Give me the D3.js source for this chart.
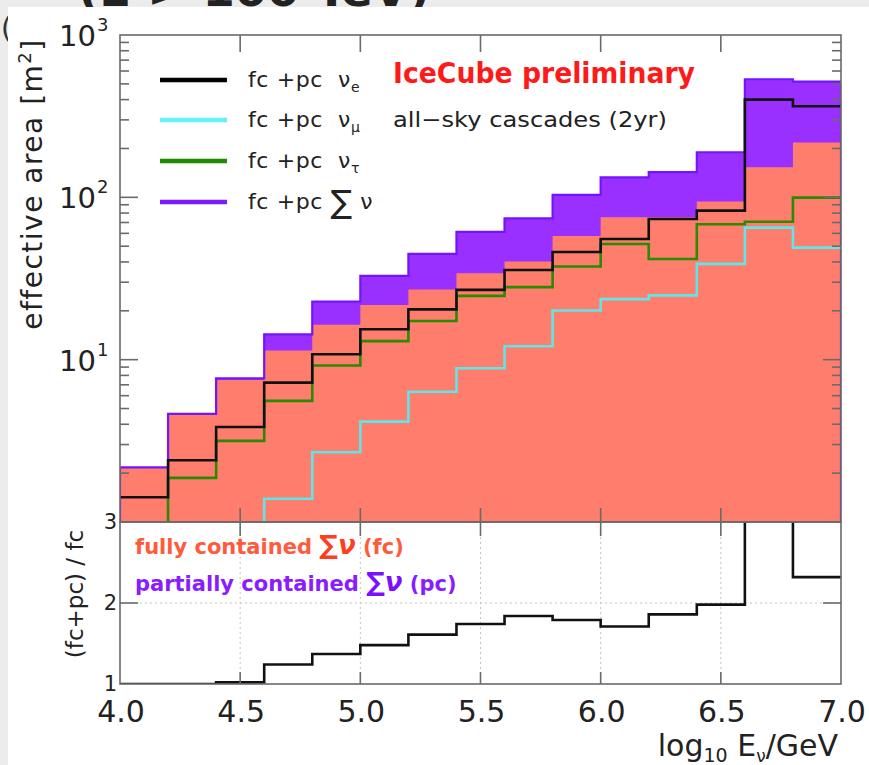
<!DOCTYPE html>
<html><head><meta charset="utf-8">
<script src="https://cdn.jsdelivr.net/npm/d3@7"></script>
<style>html,body{margin:0;padding:0;background:#fff;}svg{display:block;font-family:"DejaVu Sans",sans-serif;}</style>
</head><body>
<script>
// ---- data ----
const binLow = [4.0,4.2,4.4,4.6,4.8,5.0,5.2,5.4,5.6,5.8,6.0,6.2,6.4,6.6,6.8];
const binEnd = 7.0;
const sumTotal = [2.17,4.63,7.66,14.3,22.8,32.8,44.8,61.2,74.3,103.5,132.6,142.8,189.6,534,516];
const sumFC    = [2.15,4.60,7.50,11.4,16.4,21.7,27.1,34.1,40.2,57.8,75.4,75.4,94.1,153,218];
const nuE      = [1.42,2.40,3.85,7.22,10.8,15.4,20.4,26.9,35.7,46.1,55.4,73.6,82.8,400,364];
const nuMu     = [0.3,0.5,0.8,1.39,2.69,4.15,6.35,8.85,12.1,20.1,23.6,24.9,38.9,65.1,49.0];
const nuTau    = [0.5,1.87,3.16,5.57,9.21,13.0,17.3,24.7,28.0,37.5,51.6,41.7,68.3,70.8,99.6];
const ratio    = [1.0,1.0,1.02,1.24,1.37,1.48,1.61,1.74,1.84,1.79,1.71,1.86,1.98,3.5,2.32];
const xTicks = [4.0,4.5,5.0,5.5,6.0,6.5,7.0];
const yDecades = [1,2,3];
const ratioTicks = [1,2,3];
const legendItems = [
  {label:"e", color:"#000000", kind:"sub"},
  {label:"μ", color:"#66f2f2", kind:"sub"},
  {label:"τ", color:"#1f8a00", kind:"sub"},
  {label:"∑", color:"#7a1cff", kind:"sum"}
];

const W = 869, H = 765;
const svg = d3.select("body").append("svg").attr("width", W).attr("height", H);
const defs = svg.append("defs");

// background: grey page edge with a cut-off title behind the white chart panel
svg.append("rect").attr("x",0).attr("y",0).attr("width",W).attr("height",H).attr("fill","#ececec");
svg.append("text").attr("x",78).attr("y",6)
  .attr("font-size",44).attr("font-weight","bold").attr("fill","#222")
  .attr("textLength",352).attr("lengthAdjust","spacingAndGlyphs").text("(E > 100 TeV)");
svg.append("text").attr("x",1).attr("y",38)
  .attr("font-size",28).attr("fill","#333").text("(");
svg.append("rect").attr("x",8).attr("y",7).attr("width",W-8).attr("height",H-7).attr("fill","#fff");

// ---- scales ----
const x = d3.scaleLinear().domain([4,7]).range([120,841]);
const y = d3.scaleLog().domain([1,1000]).range([522,35]);
const yr = d3.scaleLinear().domain([1,3]).range([684,522]);

defs.append("clipPath").attr("id","cTop").append("rect")
  .attr("x",x(4)).attr("y",y(1000)).attr("width",x(7)-x(4)).attr("height",y(1)-y(1000));
defs.append("clipPath").attr("id","cBot").append("rect")
  .attr("x",x(4)).attr("y",yr(3)).attr("width",x(7)-x(4)).attr("height",yr(1)-yr(3));

function stepPts(vals){
  const p = binLow.map((b,i)=>[b, vals[i]]);
  p.push([binEnd, vals[vals.length-1]]);
  return p;
}
const topG = svg.append("g").attr("clip-path","url(#cTop)");
const area = d3.area().curve(d3.curveStepAfter).x(d=>x(d[0])).y0(y(1)).y1(d=>y(Math.max(d[1],0.01)));
const line = d3.line().curve(d3.curveStepAfter).x(d=>x(d[0])).y(d=>y(Math.max(d[1],0.01)));

topG.append("path").attr("d", area(stepPts(sumTotal))).attr("fill","#9a30ff");
topG.append("path").attr("d", area(stepPts(sumFC))).attr("fill","#ff7d6d");
// purple outline incl. side edges
const outlinePts = [[4,0.5]];
binLow.forEach((b,i)=>{
  outlinePts.push([b,sumTotal[i]]);
  outlinePts.push([i<binLow.length-1?binLow[i+1]:binEnd,sumTotal[i]]);
});
outlinePts.push([7,0.5]);
topG.append("path").attr("d", d3.line().x(d=>x(d[0])).y(d=>y(d[1]))(outlinePts))
  .attr("fill","none").attr("stroke","#7414ff").attr("stroke-width",2.2);

topG.append("path").attr("d", line(stepPts(nuMu))).attr("fill","none").attr("stroke","#5fe6e8").attr("stroke-width",2.6);
topG.append("path").attr("d", line(stepPts(nuTau))).attr("fill","none").attr("stroke","#2a8a00").attr("stroke-width",2.6);
topG.append("path").attr("d", line(stepPts(nuE))).attr("fill","none").attr("stroke","#111").attr("stroke-width",2.6);

// ---- bottom panel ----
const botG = svg.append("g").attr("clip-path","url(#cBot)");
xTicks.slice(1,-1).forEach(t=>{
  botG.append("line").attr("x1",x(t)).attr("x2",x(t)).attr("y1",yr(3)).attr("y2",yr(1))
    .attr("stroke","#c4c4c4").attr("stroke-width",1).attr("stroke-dasharray","2,3");
});
botG.append("line").attr("x1",x(4)).attr("x2",x(7)).attr("y1",yr(2)).attr("y2",yr(2))
  .attr("stroke","#c4c4c4").attr("stroke-width",1).attr("stroke-dasharray","2,3");
const rline = d3.line().curve(d3.curveStepAfter).x(d=>x(d[0])).y(d=>yr(d[1]));
botG.append("path").attr("d", rline(stepPts(ratio))).attr("fill","none").attr("stroke","#111").attr("stroke-width",2.6);

// ---- frames and ticks ----
const axCol = "#6a6a6a";
const g = svg.append("g").attr("stroke",axCol).attr("stroke-width",1.6);
g.append("rect").attr("x",x(4)).attr("y",y(1000)).attr("width",x(7)-x(4)).attr("height",y(1)-y(1000)).attr("fill","none");
g.append("rect").attr("x",x(4)).attr("y",yr(3)).attr("width",x(7)-x(4)).attr("height",yr(1)-yr(3)).attr("fill","none");
xTicks.slice(1,-1).forEach(t=>{
  g.append("line").attr("x1",x(t)).attr("x2",x(t)).attr("y1",y(1000)).attr("y2",y(1000)+17);
  g.append("line").attr("x1",x(t)).attr("x2",x(t)).attr("y1",y(1)).attr("y2",y(1)-14);
  g.append("line").attr("x1",x(t)).attr("x2",x(t)).attr("y1",yr(3)).attr("y2",yr(3)+14);
  g.append("line").attr("x1",x(t)).attr("x2",x(t)).attr("y1",yr(1)).attr("y2",yr(1)-12);
});
// log ticks
[1,10,100].forEach(dec=>{
  for(let k=1;k<=9;k++){
    const v = dec*k; const len = k===1?18:9;
    if(k===1 && dec===1) continue;
    g.append("line").attr("x1",x(4)).attr("x2",x(4)+len).attr("y1",y(v)).attr("y2",y(v));
    g.append("line").attr("x1",x(7)).attr("x2",x(7)-len).attr("y1",y(v)).attr("y2",y(v));
  }
});
ratioTicks.slice(1,2).forEach(t=>{
  g.append("line").attr("x1",x(4)).attr("x2",x(4)+18).attr("y1",yr(t)).attr("y2",yr(t));
  g.append("line").attr("x1",x(7)).attr("x2",x(7)-18).attr("y1",yr(t)).attr("y2",yr(t));
});

// ---- tick labels ----
const tc = "#222";
yDecades.forEach(d=>{
  const yy = y(Math.pow(10,d));
  svg.append("text").attr("x",96).attr("y",yy+11).attr("text-anchor","end")
    .attr("font-size",29).attr("fill",tc).text("10");
  svg.append("text").attr("x",97).attr("y",yy-4).attr("text-anchor","start")
    .attr("font-size",18).attr("fill",tc).text(String(d));
});
ratioTicks.forEach(t=>{
  svg.append("text").attr("x",117).attr("y",yr(t)+7).attr("text-anchor","end")
    .attr("font-size",21).attr("fill",tc).text(String(t));
});
xTicks.forEach(t=>{
  svg.append("text").attr("x",x(t)+1).attr("y",722).attr("text-anchor","middle")
    .attr("font-size",30).attr("fill",tc).text(d3.format(".1f")(t));
});

// axis titles
const xt = svg.append("text").attr("x",838).attr("y",756).attr("text-anchor","end").attr("font-size",30).attr("fill",tc);
xt.append("tspan").text("log");
xt.append("tspan").attr("font-size",19).attr("dy",6).text("10");
xt.append("tspan").attr("dy",-6).text(" E");
xt.append("tspan").attr("font-size",17).attr("dy",6).text("ν");
xt.append("tspan").attr("dy",-6).text("/GeV");

const yt = svg.append("text").attr("transform","translate(42,184) rotate(-90)").attr("text-anchor","middle")
  .attr("font-size",28).attr("letter-spacing",1.5).attr("fill",tc);
yt.append("tspan").text("effective area [m");
yt.append("tspan").attr("font-size",18).attr("dy",-11).text("2");
yt.append("tspan").attr("dy",11).text("]");

svg.append("text").attr("transform","translate(83,594) rotate(-90)").attr("text-anchor","middle")
  .attr("font-size",23).attr("fill",tc).text("(fc+pc) / fc");

// ---- legend ----
const legY = [80,120,161,202];
legendItems.forEach((it,i)=>{
  svg.append("line").attr("x1",160).attr("x2",227).attr("y1",legY[i]).attr("y2",legY[i])
    .attr("stroke",it.color).attr("stroke-width",4.5);
  const t = svg.append("text").attr("x",248).attr("y",legY[i]+7).attr("font-size",22)
    .attr("fill","#222").attr("letter-spacing",0.6);
  if(it.kind==="sub"){
    t.append("tspan").attr("xml:space","preserve").text("fc +pc  ν");
    t.append("tspan").attr("font-size",14).attr("dy",5).text(it.label);
  } else {
    t.append("tspan").text("fc +pc ");
    t.append("tspan").attr("font-size",32).attr("dy",4).text(" ∑");
    t.append("tspan").attr("font-size",22).attr("dy",-4).text(" ν");
  }
});

svg.append("text").attr("x",393).attr("y",83).attr("font-size",29).attr("font-weight","bold")
  .attr("fill","#ff1a1a").attr("textLength",302).attr("lengthAdjust","spacingAndGlyphs").text("IceCube preliminary");
svg.append("text").attr("x",393).attr("y",127).attr("font-size",22).attr("fill","#222")
  .attr("textLength",274).attr("lengthAdjust","spacingAndGlyphs").text("all\u2212sky cascades (2yr)");

// bottom panel annotations
const fcT = svg.append("text").attr("x",135).attr("y",554).attr("font-size",21).attr("font-weight","bold").attr("fill","#ff5a3c");
fcT.append("tspan").text("fully contained ");
fcT.append("tspan").attr("font-size",26).attr("fill","#ff3d1f").attr("font-style","italic").text("∑ν");
fcT.append("tspan").text(" (fc)");
const pcT = svg.append("text").attr("x",135).attr("y",591).attr("font-size",21).attr("font-weight","bold").attr("fill","#8a1cff");
pcT.append("tspan").text("partially contained ");
pcT.append("tspan").attr("font-size",26).attr("fill","#7a10ff").attr("font-style","italic").text("∑ν");
pcT.append("tspan").text(" (pc)");
</script>
</body></html>
